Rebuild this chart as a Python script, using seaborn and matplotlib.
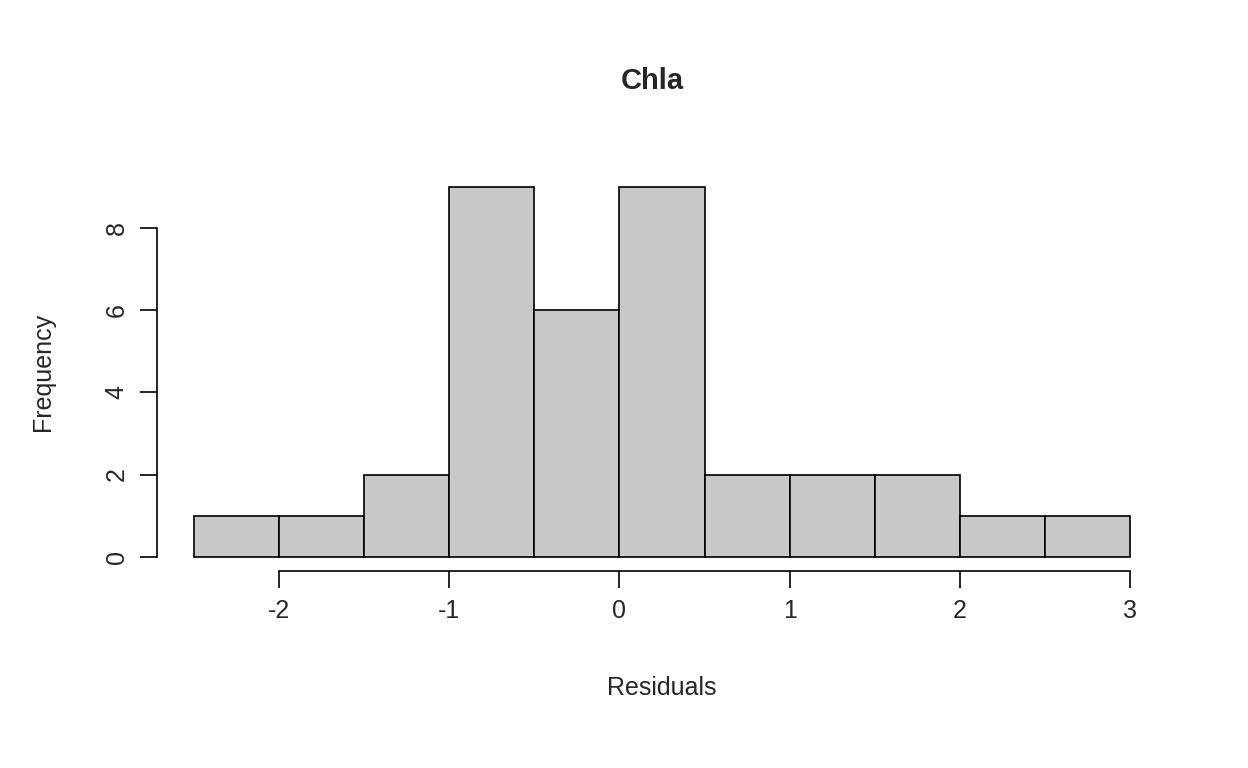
import matplotlib
matplotlib.use("Agg")
import matplotlib.pyplot as plt
import seaborn as sns
import numpy as np

# histogram of residuals (bin edges and counts)
edges = [-2.5, -2.0, -1.5, -1.0, -0.5, 0.0, 0.5, 1.0, 1.5, 2.0, 2.5, 3.0]
counts = [1, 1, 2, 9, 6, 9, 2, 2, 2, 1, 1]
centers = [(a + b) / 2 for a, b in zip(edges[:-1], edges[1:])]

sns.set_style("white")
plt.rcParams['font.family'] = ['Liberation Sans', 'DejaVu Sans']

fig = plt.figure(figsize=(12.48, 7.68), dpi=100)
ax = fig.add_axes([0.1255, 0.2561, 0.8099, 0.5192])
sns.histplot(x=centers, weights=counts, bins=edges, color="#C8C8C8",
             edgecolor="black", linewidth=1.2, alpha=1, ax=ax)

ax.set_xlim(-2.72, 3.22)
ax.set_ylim(-0.36, 9.36)
for s in ["top", "right"]:
    ax.spines[s].set_visible(False)
ax.spines["left"].set_bounds(0, 8)
ax.spines["bottom"].set_bounds(-2, 3)
for s in ["left", "bottom"]:
    ax.spines[s].set_color("black")
    ax.spines[s].set_linewidth(1.2)
ax.set_xticks([-2, -1, 0, 1, 2, 3])
ax.set_xticklabels(["-2", "-1", "0", "1", "2", "3"])
ax.set_yticks([0, 2, 4, 6, 8])
ax.tick_params(axis="both", length=12, width=1.2, color="black", labelsize=18, pad=8, bottom=True, left=True)
for lab in ax.get_yticklabels():
    lab.set_rotation(90)
    lab.set_va("center")

ax.set_xlabel("Residuals", fontsize=18, labelpad=38)
ax.set_ylabel("Frequency", fontsize=18, labelpad=36)
fig.text(0.5225, 0.895, "Chla", fontsize=21, fontweight="bold", ha="center", va="center")

fig.savefig("out.png", dpi=100)
